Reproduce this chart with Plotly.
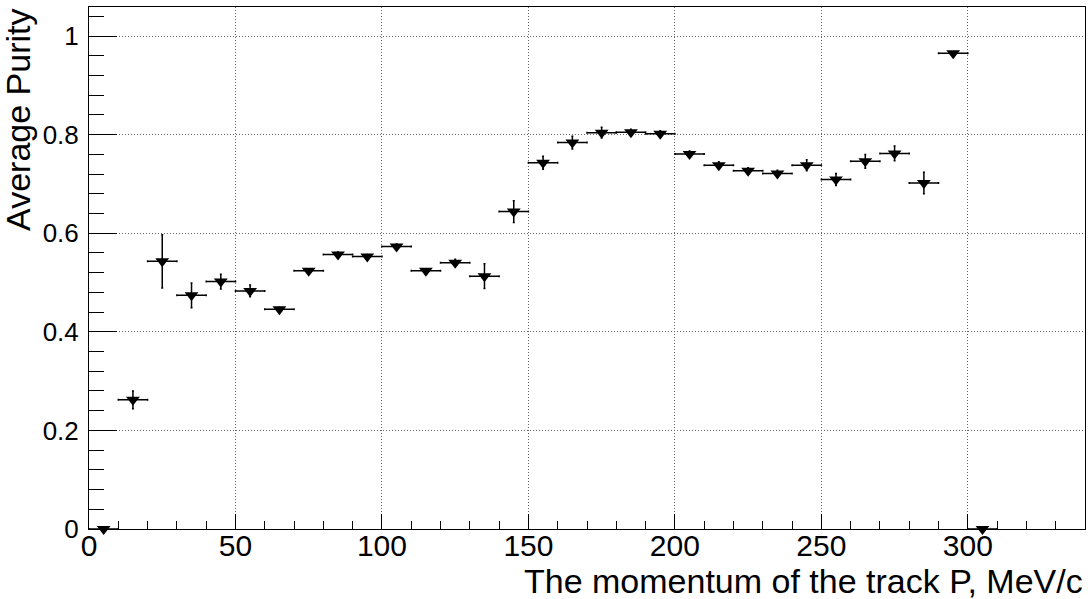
import plotly.graph_objects as go

bin_centers = [5, 15, 25, 35, 45, 55, 65, 75, 85, 95, 105, 115, 125, 135, 145, 155,
               165, 175, 185, 195, 205, 215, 225, 235, 245, 255, 265, 275, 285, 295, 305]
purity = [0.0, 0.262, 0.543, 0.474, 0.502, 0.483, 0.446, 0.524, 0.557, 0.553, 0.573,
          0.524, 0.540, 0.513, 0.644, 0.743, 0.784, 0.804, 0.805, 0.802, 0.761, 0.738,
          0.727, 0.721, 0.738, 0.709, 0.746, 0.762, 0.702, 0.965, 0.0]
purity_err = [0.0, 0.018, 0.054, 0.025, 0.015, 0.012, 0.004, 0.004, 0.005, 0.004, 0.005,
              0.004, 0.007, 0.025, 0.022, 0.013, 0.013, 0.011, 0.006, 0.006, 0.006, 0.007,
              0.006, 0.007, 0.011, 0.012, 0.014, 0.015, 0.022, 0.003, 0.0]
bin_half_width = [5] * len(bin_centers)

x_title = "The momentum of the track P, MeV/c"
y_title = "Average Purity"

font_family = "Liberation Sans, Arial, Helvetica, sans-serif"

fig = go.Figure()
fig.add_trace(go.Scatter(
    x=bin_centers, y=purity, mode="markers",
    marker=dict(symbol="triangle-down", size=12, color="black"),
    error_x=dict(type="data", array=bin_half_width, color="black", thickness=1.5, width=1),
    error_y=dict(type="data", array=purity_err, color="black", thickness=1.5, width=1),
    cliponaxis=False, showlegend=False,
))

fig.update_layout(
    width=1092, height=599,
    margin=dict(l=89, r=7, t=7, b=70, pad=0),
    paper_bgcolor="white", plot_bgcolor="white",
    font=dict(family=font_family, color="black", size=24),
    xaxis=dict(
        range=[0, 340], tickvals=[0, 50, 100, 150, 200, 250, 300],
        ticks="inside", ticklen=15, tickwidth=1, tickcolor="black",
        minor=dict(ticks="inside", ticklen=8, dtick=10, tick0=0, tickcolor="black", showgrid=False),
        showline=True, linecolor="black", linewidth=1, mirror=True,
        showgrid=True, gridcolor="#666666", griddash="1px,2px", gridwidth=1,
        zeroline=False, tickfont=dict(size=30), ticklabelstandoff=-10,
    ),
    yaxis=dict(
        range=[0, 1.059], tickvals=[0, 0.2, 0.4, 0.6, 0.8, 1.0],
        ticktext=["0", "0.2", "0.4", "0.6", "0.8", "1"],
        ticks="inside", ticklen=28, tickwidth=1, tickcolor="black",
        minor=dict(ticks="inside", ticklen=15, dtick=0.04, tick0=0, tickcolor="black", showgrid=False),
        showline=True, linecolor="black", linewidth=1, mirror=True,
        showgrid=True, gridcolor="#666666", griddash="1px,2px", gridwidth=1,
        zeroline=False, tickfont=dict(size=26), ticklabelstandoff=4,
    ),
    annotations=[
        dict(text=x_title, xref="paper", yref="paper", x=1.0, y=-0.1,
             xanchor="right", yanchor="middle", showarrow=False,
             font=dict(size=34, family=font_family, color="black")),
        dict(text=y_title, xref="paper", yref="paper", x=-0.0714, y=1.0,
             xanchor="center", yanchor="top", textangle=-90, showarrow=False,
             font=dict(size=34, family=font_family, color="black")),
    ],
)

fig.write_html(
    "out.html",
    config={"displayModeBar": False},
    post_script="document.body.style.margin='0';document.body.style.overflow='hidden';",
)
